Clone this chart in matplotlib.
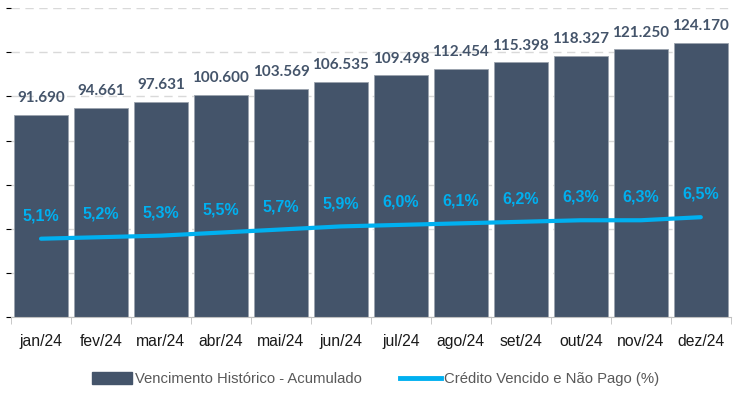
"""
Vencimento histórico acumulado com crédito vencido e não pago (%).
"""

import matplotlib.pyplot as plt
from matplotlib.lines import Line2D
from matplotlib.patches import Patch

meses = ["jan/24", "fev/24", "mar/24", "abr/24", "mai/24", "jun/24",
         "jul/24", "ago/24", "set/24", "out/24", "nov/24", "dez/24"]
vencimento = [91690, 94661, 97631, 100600, 103569, 106535,
              109498, 112454, 115398, 118327, 121250, 124170]
credito_pct = [5.1, 5.2, 5.3, 5.5, 5.7, 5.9, 6.0, 6.1, 6.2, 6.3, 6.3, 6.5]

BAR = "#44546A"
LINE = "#00B0F0"


def fmt_milhar(v):
    return f"{v:,.0f}".replace(",", ".")


def main():
    plt.rcParams["font.family"] = ["Liberation Sans", "DejaVu Sans"]
    fig = plt.figure(figsize=(7.33, 4.05), dpi=100)
    ax = fig.add_axes([0.015, 0.217, 0.982, 0.763])

    x = range(len(meses))
    ax.bar(x, vencimento, width=0.9, color=BAR, edgecolor="#9aa3ad",
           linewidth=0.6, zorder=2)
    for i, v in zip(x, vencimento):
        ax.annotate(fmt_milhar(v), (i, v), xytext=(0, 7), textcoords="offset points",
                    ha="center", va="bottom", fontsize=11, fontweight="bold",
                    color=BAR, family=["Lato", "DejaVu Sans"])

    ax.set_ylim(0, 140000)
    ax.set_yticks(range(0, 140001, 20000))
    ax.yaxis.grid(True, color="#d9d9d9", linestyle=(0, (6, 4)), linewidth=1, zorder=0)
    ax.set_axisbelow(True)
    ax.tick_params(axis="y", left=False, labelleft=False)
    ax.set_xlim(-0.5, len(meses) - 0.5)
    ax.set_xticks(list(x))
    ax.set_xticklabels(meses, fontsize=11.3, color="#1a1a1a")
    ax.set_xticks([i - 0.5 for i in range(len(meses) + 1)], minor=True)
    ax.tick_params(axis="x", which="major", length=0, pad=12)
    ax.tick_params(axis="x", which="minor", length=5, color="#bfbfbf")
    for s in ["top", "right", "left"]:
        ax.spines[s].set_visible(False)
    ax.spines["bottom"].set_color("#bfbfbf")

    ax2 = ax.twinx()
    ax2.plot(list(x), credito_pct, color=LINE, linewidth=3, solid_capstyle="round",
             zorder=3)
    for i, p in zip(x, credito_pct):
        ax2.annotate(f"{p:.1f}%".replace(".", ","), (i, p), xytext=(0, 11),
                     textcoords="offset points", ha="center", va="bottom",
                     fontsize=11.5, fontweight="bold", color=LINE)
    ax2.set_ylim(0, 20.1)
    ax2.axis("off")

    handles = [Patch(color=BAR), Line2D([0], [0], color=LINE, linewidth=3.5)]
    labels = ["Vencimento Histórico - Acumulado", "Crédito Vencido e Não Pago (%)"]
    fig.legend(handles, labels, loc="center", bbox_to_anchor=(0.512, 0.064), ncol=2,
               frameon=False, fontsize=10.7, labelcolor="#595959",
               handlelength=2.7, handleheight=0.9, columnspacing=2.6, handletextpad=0.2)

    fig.savefig("out.png", dpi=100)


if __name__ == "__main__":
    main()
